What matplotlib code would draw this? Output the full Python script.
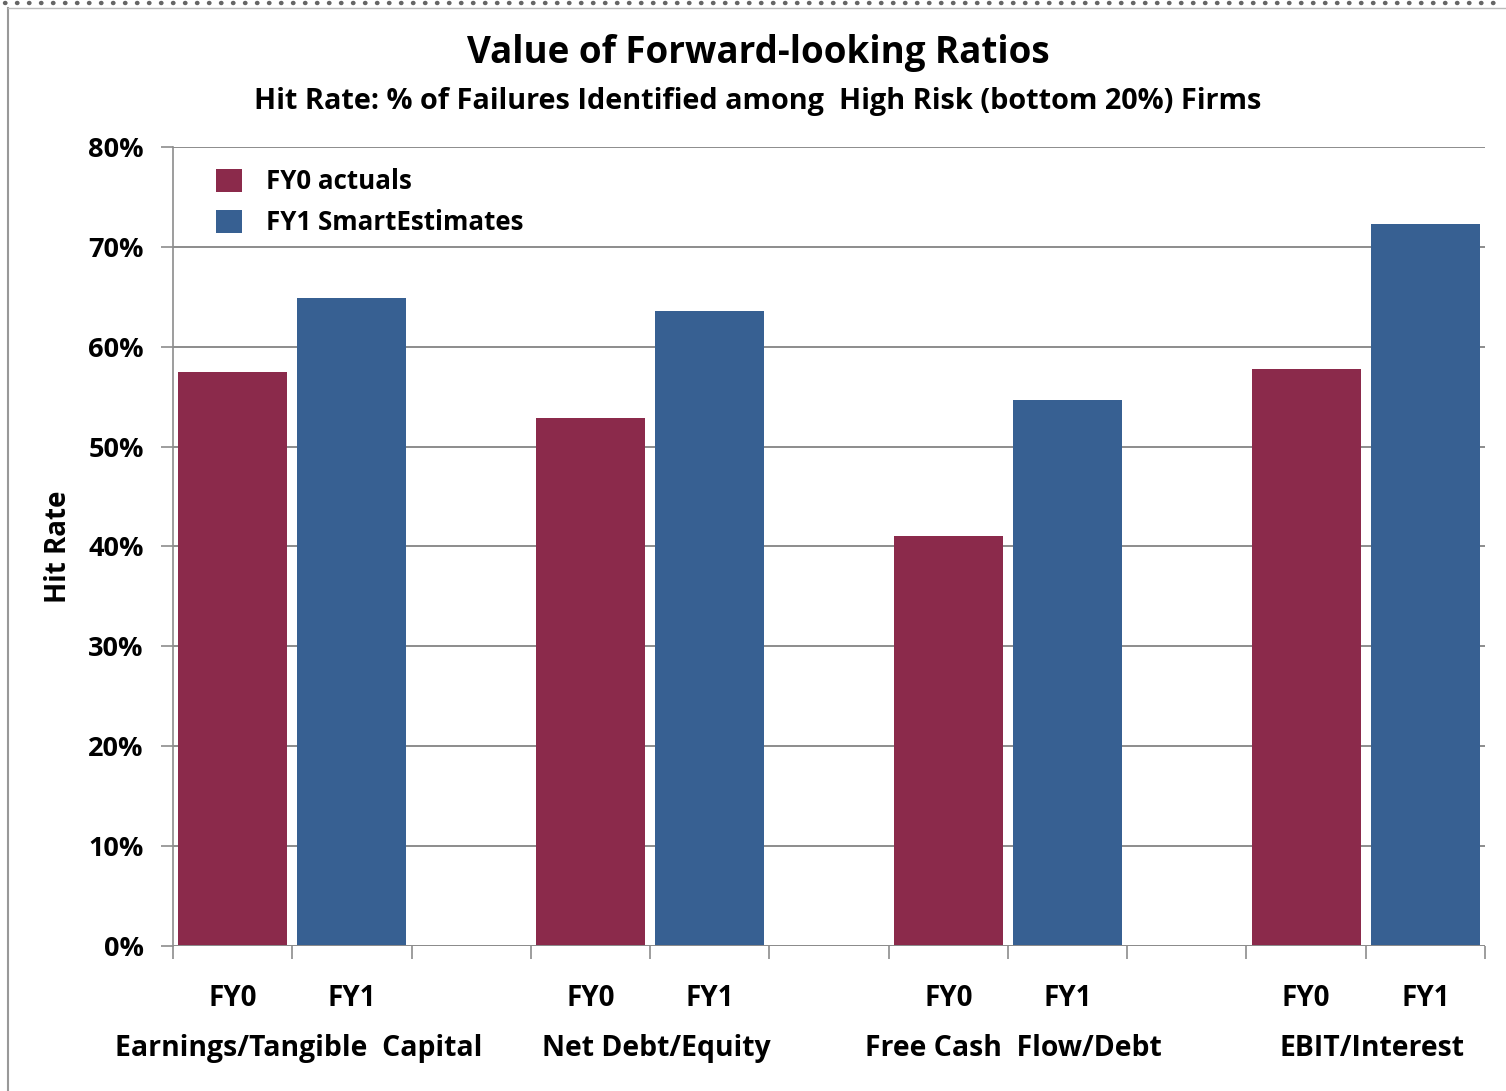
import matplotlib.pyplot as plt
from matplotlib.lines import Line2D
from matplotlib.patches import Patch
import matplotlib.ticker as ticker

plt.rcParams["font.family"] = ["Open Sans", "DejaVu Sans"]
plt.rcParams["font.weight"] = "bold"

# ---------------------------------------------------------------------------
# Data
# ---------------------------------------------------------------------------
groups = ["Earnings/Tangible  Capital", "Net Debt/Equity", "Free Cash  Flow/Debt", "EBIT/Interest"]
fy0_actuals = [57.5, 52.9, 41.1, 57.8]
fy1_smart = [64.9, 63.6, 54.7, 72.3]
bar_labels = ["FY0", "FY1"]

MAROON = "#8B2A4B"
BLUE = "#376092"
GRID = "#8C8C8C"

# ---------------------------------------------------------------------------
# Plot
# ---------------------------------------------------------------------------
fig = plt.figure(figsize=(15.06, 10.91), dpi=100)
ax = fig.add_axes([173 / 1506, 1 - 946 / 1091, (1485 - 173) / 1506, (946 - 147) / 1091])

pos0 = [3 * g for g in range(len(groups))]
pos1 = [3 * g + 1 for g in range(len(groups))]
ax.bar(pos0, fy0_actuals, width=0.915, color=MAROON, zorder=3, label="FY0 actuals")
ax.bar(pos1, fy1_smart, width=0.915, color=BLUE, zorder=3, label="FY1 SmartEstimates")

ax.set_xlim(-0.5, 10.5)
ax.set_ylim(0, 80)
ax.yaxis.set_major_locator(ticker.MultipleLocator(10))
ax.yaxis.set_major_formatter(ticker.FuncFormatter(lambda v, p: f"{v:.0f}%"))
ax.grid(axis="y", color=GRID, linewidth=1.4, zorder=0)
ax.tick_params(axis="y", length=9, width=1.2, color=GRID, labelsize=19.5, pad=12)
for lbl in ax.get_yticklabels():
    lbl.set_fontweight("bold")

# x tick marks at slot boundaries, labels drawn as text
ax.set_xticks([i - 0.5 for i in range(12)])
ax.set_xticklabels([])
ax.tick_params(axis="x", length=9, width=1.2, color=GRID, direction="out")

for g, name in enumerate(groups):
    for k, lab in enumerate(bar_labels):
        ax.text(3 * g + k, -5.3, lab, ha="center", va="center", fontsize=20,
                fontweight="bold", clip_on=False)
    ax.text(3 * g + 0.55, -10.3, name, ha="center", va="center", fontsize=20.4,
            fontweight="bold", clip_on=False)

for side in ["top", "right", "bottom"]:
    ax.spines[side].set_visible(False)
ax.spines["left"].set_color(GRID)
ax.spines["left"].set_linewidth(1.2)
ax.axhline(0, color=GRID, linewidth=1.4, zorder=4)

ax.set_ylabel("Hit Rate", fontsize=20, fontweight="bold", labelpad=11)

fig.text(758 / 1506, 1 - 53 / 1091, "Value of Forward-looking Ratios",
         ha="center", va="center", fontsize=26.5, fontweight="bold")
fig.text(758 / 1506, 1 - 101 / 1091, "Hit Rate: % of Failures Identified among  High Risk (bottom 20%) Firms",
         ha="center", va="center", fontsize=20.8, fontweight="bold")

handles = [Patch(facecolor=MAROON), Patch(facecolor=BLUE)]
leg = ax.legend(handles, ["FY0 actuals", "FY1 SmartEstimates"], loc="upper left",
                bbox_to_anchor=(0.0154, 1.0025), frameon=False,
                prop={"size": 18.6, "weight": "bold"},
                handlelength=1.0, handleheight=1.0, handletextpad=0.93, labelspacing=0.55)

# outer frame: dotted top border and solid left border
fig.add_artist(Line2D([0.003, 0.997], [1 - 3 / 1091, 1 - 3 / 1091], color="#666666",
                      linestyle=(0, (0.1, 2.6)), linewidth=3.2, dash_capstyle="round"))
fig.add_artist(Line2D([8 / 1506, 8 / 1506], [0, 1 - 8 / 1091], color="#999999", linewidth=1.5))
fig.add_artist(Line2D([8 / 1506, 1], [1 - 8 / 1091, 1 - 8 / 1091], color="#BBBBBB", linewidth=1.0))

fig.savefig("out.png", dpi=100)
